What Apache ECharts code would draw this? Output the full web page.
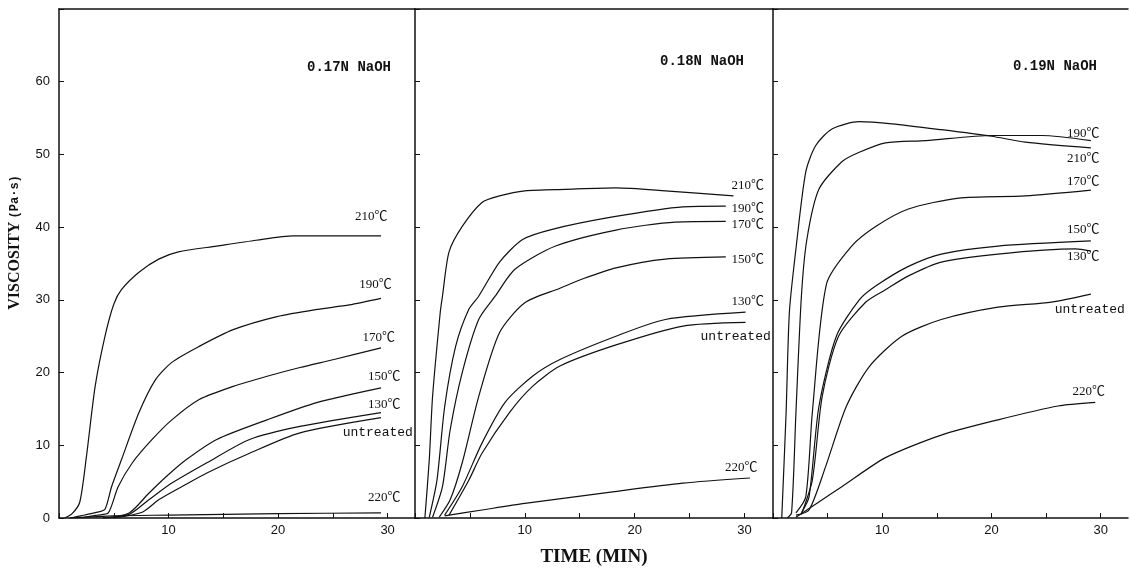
<!DOCTYPE html>
<html>
<head>
<meta charset="utf-8">
<script src="https://cdn.jsdelivr.net/npm/echarts@6/dist/echarts.min.js"></script>
<style>
  html, body { margin: 0; padding: 0; background: #fff; }
  #main { width: 1130px; height: 569px; }
</style>
</head>
<body>
<div id="main"></div>
<script>
// curve names (same order in every panel)
const curveNames = ['210℃', '190℃', '170℃', '150℃', '130℃', 'untreated', '220℃'];
const panelTitles = ['0.17N NaOH', '0.18N NaOH', '0.19N NaOH'];
const yTicks = [0, 10, 20, 30, 40, 50, 60];
const xTicks = [10, 20, 30];

// 0.17N NaOH  [time (min), viscosity (Pa·s)]
const n17_210 = [[0.5,0],[1.2,0.6],[1.9,2.2],[2.5,8.4],[3.3,18.1],[4.2,25],[5.0,29.4],[5.7,31.4],[7.3,33.8],[9.1,35.6],[10.9,36.6],[14.4,37.4],[18,38.2],[21.4,38.8],[29.4,38.8]];
const n17_190 = [[1,0],[2,0.3],[3.5,0.8],[4.2,1.2],[4.8,4.3],[5.7,8],[7.3,14.5],[8.8,19],[10.3,21.4],[12.8,23.6],[15.9,25.9],[19.9,27.7],[23.6,28.7],[26.5,29.3],[29.4,30.2]];
const n17_170 = [[2,0],[3.5,0.4],[4.5,0.7],[5.4,4.3],[6.7,7.6],[8.5,10.8],[10.3,13.5],[12.8,16.3],[15.9,18.1],[19,19.5],[22,20.7],[25.1,21.8],[29.4,23.4]];
const n17_150 = [[4,0],[6.4,0.7],[8.2,3.4],[9.8,5.7],[11.6,8],[14.4,10.8],[19,13.5],[23.6,15.9],[29.4,17.9]];
const n17_130 = [[4,0],[6.4,0.5],[8.2,2.5],[10.3,4.8],[13.5,7.6],[17.4,10.8],[22,12.6],[29.4,14.5]];
const n17_un  = [[5,0],[7.6,0.8],[9.1,2.5],[11.2,4.3],[13.5,6.2],[17.4,8.9],[22,11.7],[29.4,13.8]];
const n17_220 = [[1,0],[5,0.3],[10,0.4],[20,0.6],[29.4,0.7]];

// 0.18N NaOH
const n18_210 = [[0.9,0],[1.3,8],[1.6,16.7],[2.3,28.3],[2.5,30.5],[3.1,36.6],[4.3,40.1],[6.1,43.4],[7.7,44.3],[10,45],[13.7,45.2],[18.3,45.4],[22.8,45],[29,44.3]];
const n18_190 = [[1.3,0.1],[2,5.2],[2.7,15.3],[3.7,23.6],[4.9,28.7],[5.8,30.5],[7.7,35.2],[9.8,38.3],[12.5,39.7],[18,41.4],[24.4,42.8],[28.3,42.9]];
const n18_170 = [[1.6,0.1],[2.5,4.3],[3.2,12.1],[4.3,20],[5.8,27.3],[7.3,30.5],[9.1,34.2],[12.8,37.4],[18.3,39.6],[23.7,40.7],[28.3,40.8]];
const n18_150 = [[2.2,0.1],[3.2,2.5],[4.3,7.6],[5.8,16.7],[7.7,25.5],[10,29.6],[13.2,31.6],[15.3,32.9],[18.3,34.4],[22.8,35.6],[28.3,35.9]];
const n18_130 = [[2.7,0.4],[4.3,4.3],[6.1,10.3],[8.2,15.9],[10.7,19.5],[13.2,21.8],[18.3,25],[22.8,27.3],[30.1,28.3]];
const n18_un  = [[3.1,0.4],[4.9,5.2],[6.1,8.9],[8.6,14.5],[10.7,18.1],[13.2,20.9],[18.3,23.8],[24.4,26.4],[30.1,26.9]];
const n18_220 = [[2.7,0.3],[6.1,1.1],[10,2],[18,3.6],[24.4,4.8],[30.5,5.5]];

// 0.19N NaOH
const n19_210 = [[0.8,0],[1.2,14.5],[1.5,28.3],[2.1,37],[3,47.6],[3.9,51.2],[5.4,53.5],[7.9,54.5],[10.9,54.2],[15.4,53.4],[20,52.5],[23.1,51.7],[29.1,50.9]];
const n19_190 = [[1.3,0],[1.7,0.7],[2.1,14.5],[2.6,30.5],[3.1,38.3],[4.2,45.2],[6.3,49],[7.9,50.3],[10.3,51.6],[14,51.9],[20,52.6],[24.6,52.6],[29.1,51.9]];
const n19_170 = [[2.1,0.7],[3,2.9],[3.6,14.5],[4.9,32.2],[7.2,37.4],[9.4,40.1],[12.4,42.5],[17,44],[23.1,44.3],[29.1,45.1]];
const n19_150 = [[2.6,0.7],[3.3,2.9],[4.2,15.3],[5.8,25],[7.9,30],[9.4,31.9],[12.4,34.6],[15.4,36.3],[20.6,37.4],[29.1,38.1]];
const n19_130 = [[2.6,0.5],[3.6,5.2],[4.5,16.7],[6,25],[8.5,29.7],[10.3,31.4],[12.4,33.3],[15.4,35.2],[20.6,36.3],[27.7,37],[29.1,36.7]];
const n19_un  = [[2.1,0.4],[3.3,1.1],[4.8,7],[6.7,15.3],[8.8,20.8],[11.8,25],[15.4,27.3],[20.6,29],[25.5,29.7],[29.1,30.8]];
const n19_220 = [[2.1,0.1],[4.2,2.2],[6.3,4.3],[10.3,8.3],[15.4,11.4],[20.6,13.5],[26.1,15.4],[29.5,15.9]];

const panelData = [
  [n17_210, n17_190, n17_170, n17_150, n17_130, n17_un, n17_220],
  [n18_210, n18_190, n18_170, n18_150, n18_130, n18_un, n18_220],
  [n19_210, n19_190, n19_170, n19_150, n19_130, n19_un, n19_220]
];

// where each curve's label sits, in data units
const labelAt = [
  [[28.5,41.5],[28.9,32.1],[29.2,24.8],[29.7,19.4],[29.7,15.6],[29.1,11.7],[29.7,2.8]],
  [[30.3,45.7],[30.3,42.6],[30.3,40.4],[30.3,35.6],[30.3,29.7],[29.2,25.0],[29.7,6.9]],
  [[28.4,49.4],[28.4,52.8],[28.4,46.3],[28.4,39.7],[28.4,35.9],[29.0,28.7],[28.9,17.4]]
];

const grids = [
  { left: 59, width: 356, top: 9, height: 509, outerBoundsMode: 'none' },
  { left: 415, width: 358, top: 9, height: 509, outerBoundsMode: 'none' },
  { left: 773, width: 355, top: 9, height: 509, outerBoundsMode: 'none' }
];
const xMax = [32.5, 32.6, 32.5];

const ink = '#111';
const numFont = "'Liberation Sans', 'DejaVu Sans', sans-serif";
const serif = "'Liberation Serif', 'DejaVu Serif', serif";

const chart = echarts.init(document.getElementById('main'), null, { renderer: 'canvas' });

const xAxes = [], yAxes = [], series = [];
grids.forEach((g, i) => {
  xAxes.push({
    type: 'value', gridIndex: i, min: 0, max: xMax[i], interval: 5,
    axisLine: { show: true, lineStyle: { color: ink, width: 1.5 } },
    axisTick: { show: true, inside: true, length: 5, lineStyle: { color: ink } },
    axisLabel: {
      color: ink, fontSize: 13, fontFamily: numFont, margin: 6, showMaxLabel: false,
      formatter: v => (xTicks.indexOf(v) >= 0 ? String(v) : '')
    },
    splitLine: { show: false },
    name: i === 1 ? 'TIME (MIN)' : '',
    nameLocation: 'middle', nameGap: 30,
    nameTextStyle: { color: ink, fontSize: 19, fontWeight: 'bold', fontFamily: serif }
  });
  // top border
  xAxes.push({
    type: 'value', gridIndex: i, min: 0, max: xMax[i], position: 'top',
    axisLine: { show: true, lineStyle: { color: ink, width: 1.5 } },
    axisTick: { show: false }, axisLabel: { show: false }, splitLine: { show: false }
  });
  yAxes.push({
    type: 'value', gridIndex: i, min: 0, max: 70, interval: 10,
    axisLine: { show: true, lineStyle: { color: ink, width: 1.5 } },
    axisTick: { show: true, inside: true, length: 5, lineStyle: { color: ink } },
    axisLabel: {
      show: i === 0, color: ink, fontSize: 13, fontFamily: numFont, margin: 9,
      formatter: v => (yTicks.indexOf(v) >= 0 ? String(v) : '')
    },
    splitLine: { show: false },
    name: i === 0 ? '{a|VISCOSITY} {b|(Pa·s)}' : '',
    nameLocation: 'middle', nameGap: 36,
    nameTextStyle: {
      padding: [0, 0, 0, 42],
      rich: {
        a: { fontSize: 16, fontWeight: 'bold', color: ink, fontFamily: serif },
        b: { fontSize: 12, fontWeight: 'bold', color: ink, fontFamily: "'Liberation Mono', monospace" }
      }
    }
  });

  panelData[i].forEach((pts, k) => {
    const nm = curveNames[k];
    series.push({
      name: panelTitles[i] + ' ' + nm,
      type: 'line',
      xAxisIndex: i * 2, yAxisIndex: i,
      data: pts,
      smooth: 0.25,
      showSymbol: false, silent: true,
      lineStyle: { color: ink, width: 1.2 },
      markPoint: {
        symbol: 'circle', symbolSize: 1, silent: true,
        itemStyle: { color: 'rgba(0,0,0,0)' },
        label: {
          show: true, position: 'inside', color: ink, fontSize: 13,
          fontFamily: nm === 'untreated'
            ? "'Liberation Mono', 'DejaVu Sans Mono', monospace"
            : "'Liberation Serif', 'Noto Sans CJK SC', serif",
          formatter: nm
        },
        data: [{ coord: labelAt[i][k] }]
      }
    });
  });
});

chart.setOption({
  animation: false,
  backgroundColor: '#fff',
  title: [
    { text: panelTitles[0], left: 302, top: 55 },
    { text: panelTitles[1], left: 655, top: 49 },
    { text: panelTitles[2], left: 1008, top: 54 }
  ].map(t => Object.assign(t, {
    textStyle: { color: ink, fontSize: 14, fontWeight: 'bold', fontFamily: "'Liberation Mono', 'DejaVu Sans Mono', monospace" }
  })),
  grid: grids,
  xAxis: xAxes,
  yAxis: yAxes,
  series: series
});
</script>
</body>
</html>
